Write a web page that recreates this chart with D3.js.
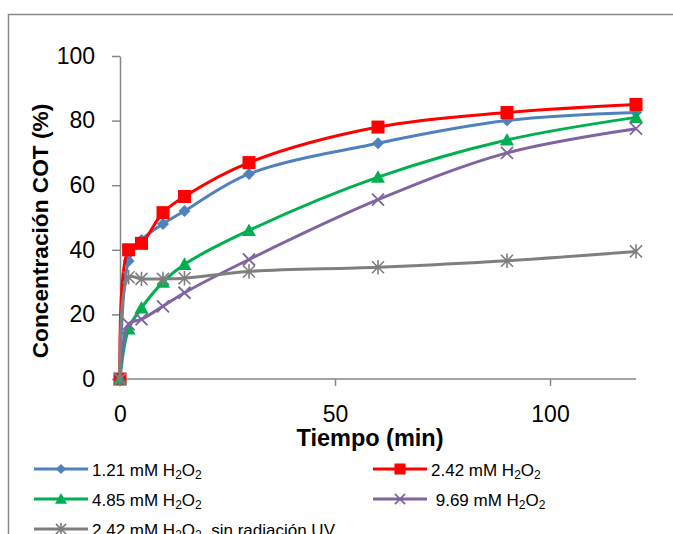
<!DOCTYPE html>
<html>
<head>
<meta charset="utf-8">
<script src="https://cdn.jsdelivr.net/npm/d3@7/dist/d3.min.js"></script>
<style>
  html, body { margin: 0; padding: 0; background: #fff; }
  svg { display: block; }
  text { font-family: "Liberation Sans", Arial, sans-serif; fill: #000; }
</style>
</head>
<body>
<script>
// ---- data ----
const times = [0, 2, 5, 10, 15, 30, 60, 90, 120];
const s121 = [0, 36.5, 43, 48, 52, 63.5, 73, 80, 82.5];
const s242 = [0, 40, 42, 51.5, 56.5, 67, 78, 82.5, 85];
const s485 = [0, 15.5, 22, 30, 35.5, 46, 62.5, 74, 81];
const s969 = [0, 17, 18.5, 22.5, 26.7, 37, 55.5, 70, 77.5];
const s242noUV = [0, 31.5, 31, 31, 31.2, 33.3, 34.6, 36.6, 39.5];
const seriesNames = ["1.21 mM H₂O₂", "2.42 mM H₂O₂", "4.85 mM H₂O₂", " 9.69 mM H₂O₂", "2.42 mM H₂O₂  sin radiación UV"];
const xTicks = [0, 50, 100];
const yTicks = [0, 20, 40, 60, 80, 100];
const xTitle = "Tiempo (min)";
const yTitle = "Concentración COT (%)";

const W = 673, H = 534;
const svg = d3.select("body").append("svg").attr("width", W).attr("height", H);

// frame
svg.append("rect").attr("x", 8.5).attr("y", 14.5).attr("width", W + 20).attr("height", H + 20)
  .attr("fill", "none").attr("stroke", "#8a8a8a").attr("stroke-width", 1.5);

const x = d3.scaleLinear().domain([0, 120]).range([120, 636]);
const y = d3.scaleLinear().domain([0, 100]).range([379, 56]);

const axisColor = "#868686";

// axes
const gy = svg.append("g").attr("transform", "translate(120,0)")
  .call(d3.axisLeft(y).tickValues(yTicks).tickSize(8).tickSizeOuter(0).tickPadding(17));
const gx = svg.append("g").attr("transform", "translate(0,379)")
  .call(d3.axisBottom(x).tickValues(xTicks).tickSize(7).tickSizeOuter(0).tickPadding(20));
[gx, gy].forEach(g => {
  g.select(".domain").attr("stroke", axisColor).attr("stroke-width", 1.5);
  g.selectAll(".tick line").attr("stroke", axisColor).attr("stroke-width", 1.5);
  g.selectAll(".tick text").style("font-family", "'Liberation Sans', Arial, sans-serif")
    .style("font-size", "23px").attr("fill", "#000");
});
gx.select(".domain").attr("d", `M${x(0)},0H${x(120)}`);

// titles
svg.append("text").attr("x", 370).attr("y", 446).attr("text-anchor", "middle")
  .style("font-size", "23.5px").style("font-weight", "bold").text(xTitle);
svg.append("text").attr("transform", "translate(48,231) rotate(-90)").attr("text-anchor", "middle")
  .style("font-size", "22.7px").style("font-weight", "bold").text(yTitle);

// series
const series = [
  { name: seriesNames[0], values: s121, color: "#4F81BD", marker: "diamond" },
  { name: seriesNames[1], values: s242, color: "#FF0000", marker: "square" },
  { name: seriesNames[2], values: s485, color: "#00B050", marker: "triangle" },
  { name: seriesNames[3], values: s969, color: "#8064A2", marker: "x" },
  { name: seriesNames[4], values: s242noUV, color: "#7F7F7F", marker: "star" }
];

function drawMarker(g, type, color, cx, cy, scale) {
  const k = scale || 1;
  if (type === "diamond") {
    const r = 6 * k;
    g.append("path").attr("d", `M${cx},${cy - r}L${cx + r},${cy}L${cx},${cy + r}L${cx - r},${cy}Z`).attr("fill", color);
  } else if (type === "square") {
    const s = 13 * k;
    g.append("rect").attr("x", cx - s / 2).attr("y", cy - s / 2).attr("width", s).attr("height", s).attr("fill", color);
  } else if (type === "triangle") {
    const s = 7 * k;
    g.append("path").attr("d", `M${cx},${cy - s}L${cx + s},${cy + s * 0.8}L${cx - s},${cy + s * 0.8}Z`).attr("fill", color);
  } else if (type === "x") {
    const s = 6 * k;
    g.append("path").attr("d", `M${cx - s},${cy - s}L${cx + s},${cy + s}M${cx - s},${cy + s}L${cx + s},${cy - s}`)
      .attr("stroke", color).attr("stroke-width", 1.8).attr("fill", "none");
  } else if (type === "star") {
    const s = 6 * k;
    g.append("path").attr("d", `M${cx - s},${cy - s}L${cx + s},${cy + s}M${cx - s},${cy + s}L${cx + s},${cy - s}M${cx},${cy - s * 1.2}L${cx},${cy + s * 1.2}`)
      .attr("stroke", color).attr("stroke-width", 1.6).attr("fill", "none");
  }
}

const line = d3.line().x(d => x(d[0])).y(d => y(d[1])).curve(d3.curveCatmullRom.alpha(0.5));

series.forEach(s => {
  const pts = times.map((t, i) => [t, s.values[i]]);
  const g = svg.append("g");
  g.append("path").attr("d", line(pts)).attr("fill", "none").attr("stroke", s.color)
    .attr("stroke-width", 3).attr("stroke-linejoin", "round");
  pts.forEach(p => drawMarker(g, s.marker, s.color, x(p[0]), y(p[1])));
});

// legend
function addLabel(g, str, tx, ty) {
  const t = g.append("text").attr("x", tx).attr("y", ty).style("font-size", "17px")
    .attr("xml:space", "preserve").style("white-space", "pre");
  const parts = str.split("₂");
  let pendingDy = 0;
  parts.forEach((p, i) => {
    if (p.length) {
      const ts = t.append("tspan").text(p);
      if (pendingDy) { ts.attr("dy", pendingDy); pendingDy = 0; }
    }
    if (i < parts.length - 1) {
      const sub = t.append("tspan").style("font-size", "12px").text("2");
      sub.attr("dy", 3 + pendingDy);
      pendingDy = -3;
    }
  });
}
const legendPos = [
  { lx: 34, ly: 469 }, { lx: 373, ly: 469 },
  { lx: 34, ly: 499 }, { lx: 373, ly: 499 },
  { lx: 34, ly: 529 }
];
const lg = svg.append("g");
series.forEach((s, i) => {
  const p = legendPos[i];
  lg.append("line").attr("x1", p.lx).attr("x2", p.lx + 54).attr("y1", p.ly).attr("y2", p.ly)
    .attr("stroke", s.color).attr("stroke-width", 3);
  drawMarker(lg, s.marker, s.color, p.lx + 27, p.ly, 0.85);
  addLabel(lg, s.name, p.lx + 58, p.ly + 7);
});
</script>
</body>
</html>
